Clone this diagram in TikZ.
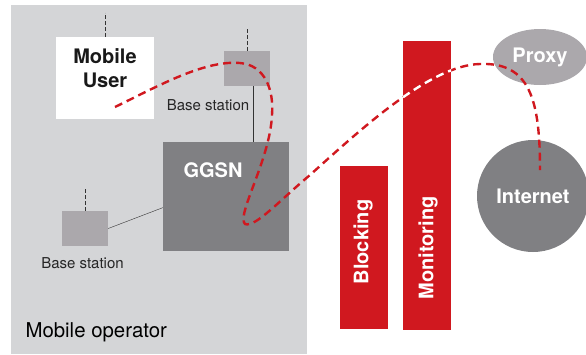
\documentclass[tikz,border=0pt]{standalone}
\usepackage{fontspec}
\setmainfont{TeX Gyre Heros}
\usetikzlibrary{shapes.geometric}
\definecolor{opgray}{RGB}{212,213,215}
\definecolor{bsgray}{RGB}{171,168,172}
\definecolor{nodegray}{RGB}{128,128,131}
\definecolor{cutred}{RGB}{208,24,31}
\newcommand{\bigtxt}{\fontsize{20}{24}\selectfont\bfseries}
\newcommand{\routepath}{(rstart) .. controls (160,85) and (205,60) .. (240,63)
        .. controls (265,65) and (274,90) .. (272,115)
        .. controls (270,160) and (236,215) .. (245,224)
        .. controls (255,228) and (280,200) .. (310,175)
        .. controls (360,130) and (430,65) .. (480,64)
        .. controls (530,62) and (540,100) .. (rend)}

\begin{document}
\begin{tikzpicture}[x=1pt, y=-1pt,
    plain/.style={rectangle, inner sep=0pt},
    bsbox/.style={plain, fill=bsgray, minimum width=46pt, minimum height=35pt},
    bar/.style={plain, fill=cutred, minimum width=48pt},
    antenna/.style={thin, black!80, dash pattern=on 4pt off 2pt},
    link/.style={thin, black!80},
    bslabel/.style={font=\fontsize{15}{17}\selectfont, text=black!85},
    whitetxt/.style={font=\bigtxt, text=white},
    route/.style={cutred, line width=2.4pt, dash pattern=on 8pt off 5pt}]
    \useasboundingbox (0,0) rectangle (586,354);

    % Mobile operator
    \node[plain, fill=opgray, minimum width=296pt, minimum height=349pt] (operator) at (159,179.5) {};
    \node[anchor=base west, font=\fontsize{20.4}{22}\selectfont] (optxt) at (22,337) {Mobile operator};

    % Mobile user
    \node[plain, fill=white, minimum width=98pt, minimum height=82pt] (user) at (105,78) {};
    \node[align=center, font=\bigtxt, text=black!90] (usertxt) at (105,68) {Mobile\\User};
    \draw[antenna] (user.north) -- ++(0,-24);

    % Base stations
    \node[bsbox] (bs1) at (247,68.5) {};
    \draw[antenna] (bs1.north) -- ++(0,-23);
    \node[bslabel] (bs1txt) at (208,105) {Base station};
    \node[bsbox] (bs2) at (85,228.5) {};
    \draw[antenna] (bs2.north) -- ++(0,-23);
    \node[bslabel] (bs2txt) at (82.5,263.5) {Base station};

    % GGSN
    \node[plain, fill=nodegray, minimum width=126pt, minimum height=109pt] (ggsn) at (226,196.5) {};
    \node[whitetxt] (ggsntxt) at (213,170) {GGSN};

    % Links
    \draw[link] (bs1.-70) -- (bs1.-70 |- ggsn.north);
    \draw[link] (bs2.east) -- (ggsn.190);

    % Blocking and monitoring
    \node[bar, minimum height=163pt] (block) at (364,247.5) {};
    \node[whitetxt, rotate=90] (blocktxt) at (363,242) {Blocking};
    \node[bar, minimum height=289pt] (monitor) at (427,185.5) {};
    \node[whitetxt, rotate=90] (monitortxt) at (428,248) {Monitoring};

    % Proxy and Internet
    \node[ellipse, fill=bsgray, inner sep=0pt, minimum width=94pt, minimum height=56pt, whitetxt] (proxy) at (540,57) {Proxy};
    \node[circle, fill=nodegray, inner sep=0pt, minimum size=112pt, whitetxt] (internet) at (533,196) {Internet};

    % Route, white where it crosses the monitoring bar
    \coordinate (rstart) at (115,107);
    \coordinate (rend) at (540,170);
    \draw[route] \routepath;
    \begin{scope}
        \clip (monitor.north west) rectangle (monitor.south east);
        \draw[route, white] \routepath;
    \end{scope}
\end{tikzpicture}
\end{document}
